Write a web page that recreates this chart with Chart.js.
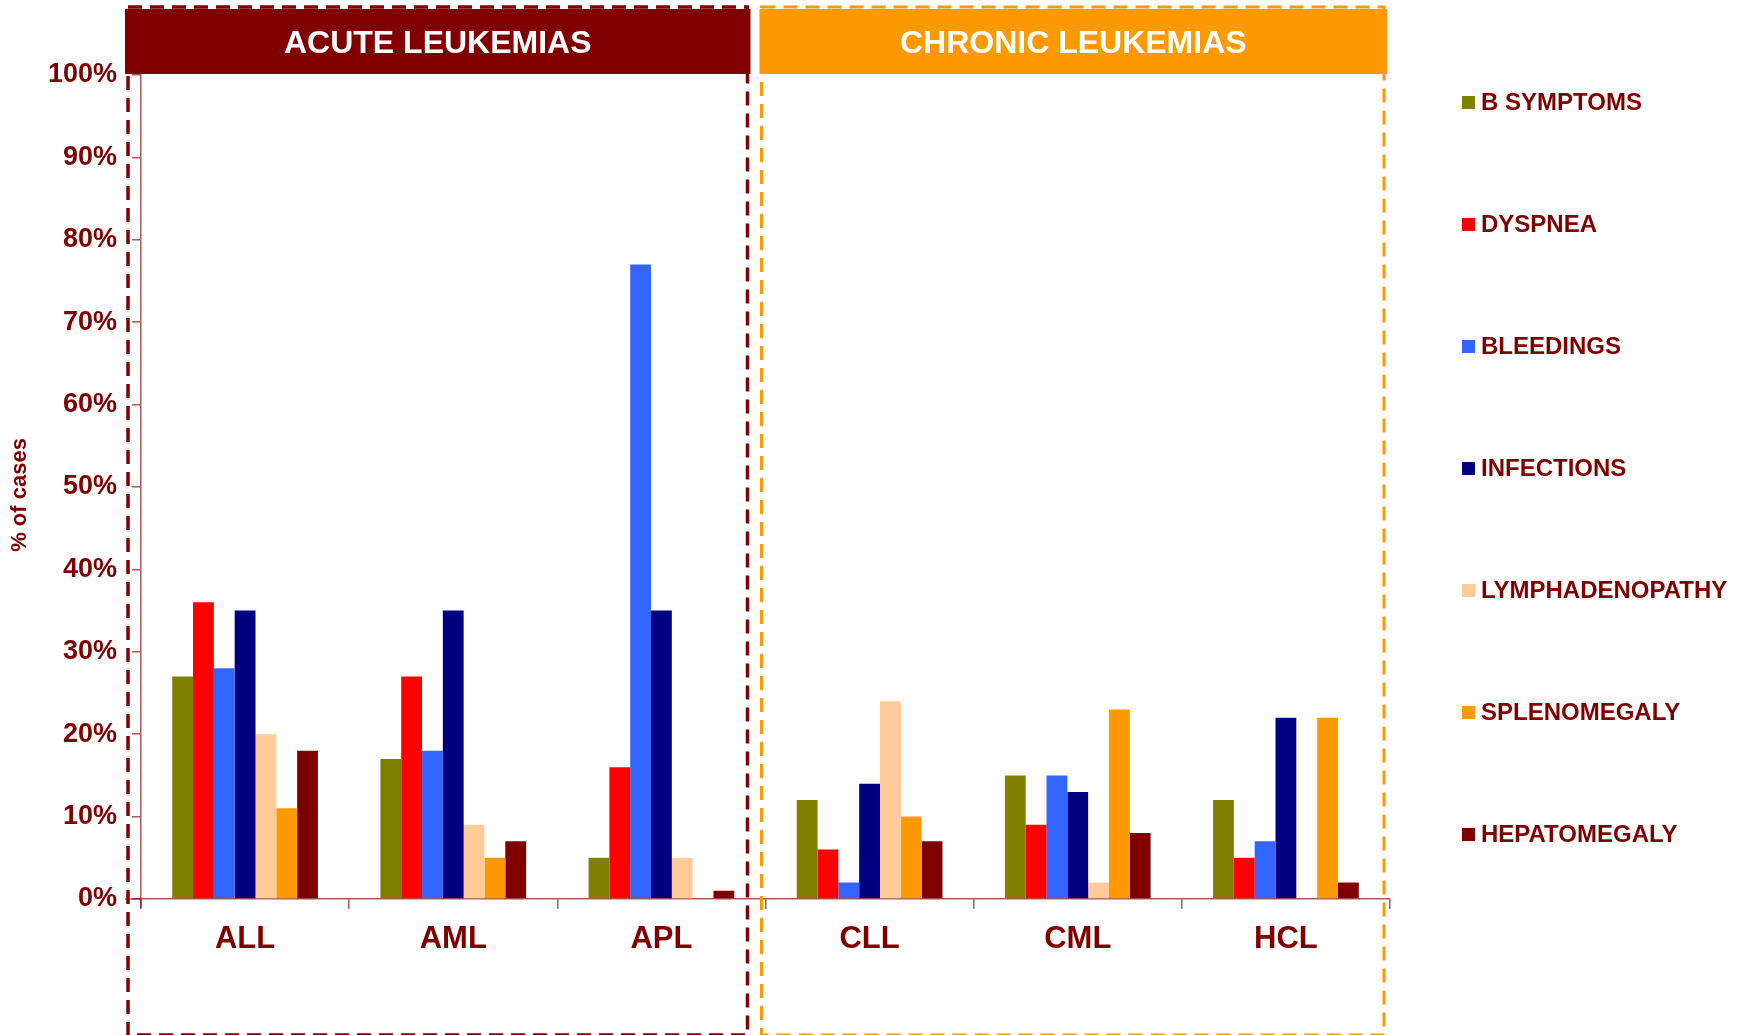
<!DOCTYPE html>
<html>
<head>
<meta charset="utf-8">
<title>Presenting symptoms by leukemia type</title>
<script src="https://cdn.jsdelivr.net/npm/chart.js@4.4.1/dist/chart.umd.min.js"></script>
<style>
  html, body { margin: 0; padding: 0; background: #fff; }
  #wrap { width: 1754px; height: 1035px; position: relative; }
</style>
</head>
<body>
<div id="wrap"><canvas id="symptomChart"></canvas></div>
<script>
// leukemia types (first three acute, last three chronic)
const categories = ['ALL', 'AML', 'APL', 'CLL', 'CML', 'HCL'];
const groupTitles = ['ACUTE LEUKEMIAS', 'CHRONIC LEUKEMIAS'];

// % of cases per symptom, in category order
const bSymptoms       = [27, 17, 5, 12, 15, 12];
const dyspnea         = [36, 27, 16, 6, 9, 5];
const bleedings       = [28, 18, 77, 2, 15, 7];
const infections      = [35, 35, 35, 14, 13, 22];
const lymphadenopathy = [20, 9, 5, 24, 2, 0];
const splenomegaly    = [11, 5, 0, 10, 23, 22];
const hepatomegaly    = [18, 7, 1, 7, 8, 2];

const yTicks = [0, 10, 20, 30, 40, 50, 60, 70, 80, 90, 100];

const MAROON = '#800000';
const ORANGE = '#FF9900';
const AXIS = 'rgba(128,0,0,0.65)';
const FONT = 'Arial, "Liberation Sans", sans-serif';

const series = [
    { label: 'B SYMPTOMS',      data: bSymptoms,       color: '#808000' },
    { label: 'DYSPNEA',         data: dyspnea,         color: '#FF0000' },
    { label: 'BLEEDINGS',       data: bleedings,       color: '#3366FF' },
    { label: 'INFECTIONS',      data: infections,      color: '#000080' },
    { label: 'LYMPHADENOPATHY', data: lymphadenopathy, color: '#FFCC99' },
    { label: 'SPLENOMEGALY',    data: splenomegaly,    color: ORANGE },
    { label: 'HEPATOMEGALY',    data: hepatomegaly,    color: MAROON }
];

// group headers + dashed frames around acute / chronic blocks
const groupFrames = {
    id: 'groupFrames',
    afterDraw(chart) {
        const { ctx, chartArea, scales } = chart;
        const x = scales.x;
        const split = (x.getPixelForValue(2) + x.getPixelForValue(3)) / 2 - 15;
        const left = chartArea.left - 16;
        const right = chartArea.right - 3;
        const top = 9;
        const bottom = chart.height;

        ctx.save();
        // axes run a little past each other at the origin
        ctx.strokeStyle = AXIS;
        ctx.lineWidth = 1.5;
        ctx.beginPath();
        ctx.moveTo(left, chartArea.bottom);
        ctx.lineTo(chartArea.left, chartArea.bottom);
        ctx.moveTo(chartArea.left, chartArea.bottom);
        ctx.lineTo(chartArea.left, chartArea.bottom + 9);
        ctx.stroke();

        ctx.setLineDash([14, 8]);
        ctx.lineWidth = 3.5;
        ctx.strokeStyle = MAROON;
        ctx.strokeRect(left + 3, top - 2, split - 3 - (left + 3), bottom - top + 2);
        ctx.lineWidth = 3;
        ctx.strokeStyle = ORANGE;
        ctx.strokeRect(split + 11, top - 2, right - 3 - (split + 11), bottom - top + 2);
        ctx.setLineDash([]);

        const headH = chartArea.top - 1 - top;
        ctx.fillStyle = MAROON;
        ctx.fillRect(left, top, split - left, headH);
        ctx.fillStyle = ORANGE;
        ctx.fillRect(split + 9, top, right - split - 9, headH);

        ctx.fillStyle = '#fff';
        ctx.font = 'bold 32px ' + FONT;
        ctx.textAlign = 'center';
        ctx.textBaseline = 'middle';
        ctx.fillText(groupTitles[0], (left + split) / 2, top + headH / 2 + 3);
        ctx.fillText(groupTitles[1], (split + 9 + right) / 2, top + headH / 2 + 3);
        ctx.restore();
    }
};

// vertical legend on the right side
const sideLegend = {
    id: 'sideLegend',
    afterDraw(chart) {
        const { ctx, chartArea } = chart;
        const x0 = chartArea.right + 72;
        const y0 = chartArea.top + 27;
        const step = 122;
        ctx.save();
        ctx.font = 'bold 24px ' + FONT;
        ctx.textBaseline = 'middle';
        ctx.textAlign = 'left';
        chart.data.datasets.forEach((ds, i) => {
            const y = y0 + i * step;
            ctx.fillStyle = ds.backgroundColor;
            ctx.fillRect(x0, y - 6, 13, 13);
            ctx.fillStyle = MAROON;
            ctx.fillText(ds.label, x0 + 19, y + 1);
        });
        ctx.restore();
    }
};

// y-axis title, centred a bit below the plot middle
const yTitle = {
    id: 'yTitle',
    afterDraw(chart) {
        const { ctx, chartArea } = chart;
        ctx.save();
        ctx.translate(20, (chartArea.top + chartArea.bottom) / 2 + 8);
        ctx.rotate(-Math.PI / 2);
        ctx.fillStyle = MAROON;
        ctx.font = 'bold 22px ' + FONT;
        ctx.textAlign = 'center';
        ctx.textBaseline = 'middle';
        ctx.fillText('% of cases', 0, 0);
        ctx.restore();
    }
};

const ctx = document.getElementById('symptomChart').getContext('2d');
const symptomChart = new Chart(ctx, {
    type: 'bar',
    data: {
        labels: categories,
        datasets: series.map(s => ({
            label: s.label,
            data: s.data,
            backgroundColor: s.color,
            borderWidth: 0,
            categoryPercentage: 0.70,
            barPercentage: 1.0
        }))
    },
    options: {
        responsive: true,
        maintainAspectRatio: false,
        animation: false,
        devicePixelRatio: 1,
        layout: { padding: { top: 75, right: 364, left: 0, bottom: 0 } },
        plugins: {
            legend: { display: false },
            tooltip: { enabled: false }
        },
        scales: {
            x: {
                afterFit(scale) { scale.height = 136; },
                grid: {
                    offset: true,
                    drawOnChartArea: false,
                    tickLength: 10,
                    color: AXIS,
                    lineWidth: 1.5
                },
                border: { color: AXIS, width: 1.5 },
                ticks: {
                    color: MAROON,
                    padding: 12,
                    font: { family: FONT, size: 31, weight: 'bold' }
                }
            },
            y: {
                min: 0,
                max: 100,
                afterFit(scale) { scale.width = 141; },
                afterBuildTicks(scale) {
                    scale.ticks = yTicks.map(v => ({ value: v }));
                },
                grid: {
                    drawOnChartArea: false,
                    tickLength: 9,
                    color: AXIS,
                    lineWidth: 1.5
                },
                border: { color: AXIS, width: 1.5 },
                ticks: {
                    color: MAROON,
                    padding: 15,
                    font: { family: FONT, size: 27, weight: 'bold' },
                    callback: v => v + '%'
                }
            }
        }
    },
    plugins: [groupFrames, sideLegend, yTitle]
});
</script>
</body>
</html>
